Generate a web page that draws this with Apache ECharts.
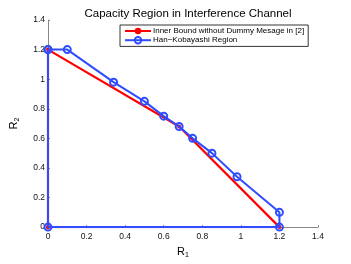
<!DOCTYPE html>
<html><head><meta charset="utf-8">
<script src="https://cdn.jsdelivr.net/npm/echarts@6/dist/echarts.min.js"></script>
<style>html,body{margin:0;padding:0;background:#fff}#c{width:351px;height:264px}</style>
</head><body><div id="c"></div>
<script>
var titleText = 'Capacity Region in Interference Channel';
var xTicks = [0, 0.2, 0.4, 0.6, 0.8, 1, 1.2, 1.4];
var yTicks = [0, 0.2, 0.4, 0.6, 0.8, 1, 1.2, 1.4];
var innerName = 'Inner Bound without Dummy Mesage in [2]';
var innerR1 = [0, 0, 0.68, 1.2, 0];
var innerR2 = [0, 1.2, 0.68, 0, 0];
var hkName = 'Han\u2212Kobayashi Region';
var hkR1 = [0, 0.1, 0.34, 0.5, 0.6, 0.68, 0.75, 0.85, 0.98, 1.2, 1.2, 0, 0];
var hkR2 = [1.2, 1.2, 0.98, 0.85, 0.75, 0.68, 0.6, 0.5, 0.34, 0.1, 0, 0, 1.2];

function pairs(a, b) { return a.map(function (v, i) { return [v, b[i]]; }); }
var font = 'Liberation Sans, Arial, sans-serif';
var chart = echarts.init(document.getElementById('c'), null, {renderer: 'canvas'});
chart.setOption({
  animation: false,
  backgroundColor: '#fff',
  title: {text: titleText, left: 183, top: 3, textAlign: 'center',
    textStyle: {fontFamily: font, fontSize: 11.5, fontWeight: 'normal', color: '#000'}},
  legend: {
    orient: 'vertical', left: 120, top: 25, padding: [2, 4, 2, 4], itemGap: 1,
    itemWidth: 26, itemHeight: 8, borderColor: '#000', borderWidth: 0.8, backgroundColor: '#fff',
    textStyle: {fontFamily: font, fontSize: 8, color: '#000', padding: [0, 0, 0, -3]},
    data: [innerName, hkName]
  },
  grid: {left: 45, right: 33, top: 20, bottom: 32},
  xAxis: {
    type: 'value', min: 0, max: 1.4, interval: 0.2,
    name: '{a|R}{b|1}', nameLocation: 'middle', nameGap: 16,
    nameTextStyle: {rich: {a: {fontFamily: font, fontSize: 11, color: '#000'}, b: {fontFamily: font, fontSize: 7, color: '#000', verticalAlign: 'bottom', padding: [8, 0, 0, 0]}}},
    axisLine: {lineStyle: {color: '#888', width: 1}},
    axisTick: {inside: true, length: 2, lineStyle: {color: '#888'}},
    axisLabel: {fontFamily: font, fontSize: 8.5, color: '#111', margin: 5,
      formatter: function (v) { return xTicks.indexOf(Math.round(v * 10) / 10) >= 0 ? String(Math.round(v * 10) / 10) : ''; }},
    splitLine: {show: false}
  },
  yAxis: {
    type: 'value', min: 0, max: 1.4, interval: 0.2,
    name: '{a|R}{b|2}', nameLocation: 'middle', nameGap: 27, nameRotate: 90,
    nameTextStyle: {rich: {a: {fontFamily: font, fontSize: 11, color: '#000'}, b: {fontFamily: font, fontSize: 7, color: '#000', padding: [8, 0, 0, 0]}}},
    axisLine: {show: true, lineStyle: {color: '#888', width: 1}},
    axisTick: {show: true, inside: true, length: 2, lineStyle: {color: '#888'}},
    axisLabel: {fontFamily: font, fontSize: 8.5, color: '#111', margin: 3,
      formatter: function (v) { return yTicks.indexOf(Math.round(v * 10) / 10) >= 0 ? String(Math.round(v * 10) / 10) : ''; }},
    splitLine: {show: false}
  },
  series: [
    {name: innerName, type: 'line', data: pairs(innerR1, innerR2), color: '#ff0000',
      lineStyle: {width: 2.2, color: '#ff0000'}, symbol: 'circle', symbolSize: 4,
      itemStyle: {color: '#ff0000'}, z: 2},
    {name: hkName, type: 'line', data: pairs(hkR1, hkR2), color: '#2f4dff',
      lineStyle: {width: 2, color: '#2f4dff'}, symbol: 'circle', symbolSize: 7,
      itemStyle: {color: 'rgba(255,255,255,0)', borderColor: '#2f4dff', borderWidth: 2}, z: 3}
  ]
});
</script></body></html>
